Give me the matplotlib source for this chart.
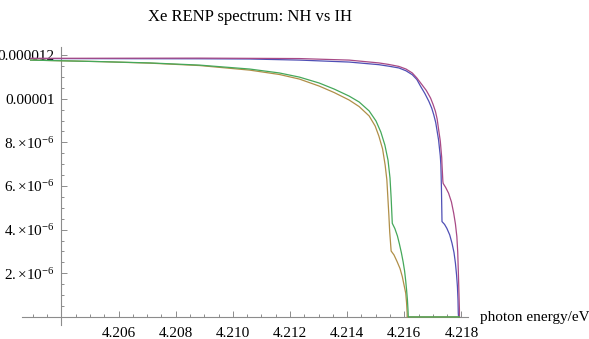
import matplotlib
matplotlib.use('Agg')
import matplotlib.pyplot as plt
from matplotlib.ticker import FixedLocator, MultipleLocator

plt.rcParams['font.family'] = ['Liberation Serif', 'DejaVu Serif']
plt.rcParams['mathtext.fontset'] = 'custom'
plt.rcParams['mathtext.rm'] = 'Liberation Serif'
plt.rcParams['mathtext.it'] = 'Liberation Serif:italic'
plt.rcParams['mathtext.bf'] = 'Liberation Serif:bold'

title = "Xe RENP spectrum: NH vs IH"
xlabel = "photon energy/eV"

# photon energy (eV) and rate (units of 1e-6)
blue_x = [4.20292, 4.20884, 4.21059, 4.21233, 4.21407, 4.21511, 4.21546, 4.21581,
          4.21606, 4.21628, 4.21644, 4.21657, 4.21672, 4.21686, 4.21696, 4.21703,
          4.21710, 4.21715, 4.21720, 4.21723, 4.21726, 4.21728, 4.21729, 4.21730,
          4.21731, 4.21732, 4.21741, 4.21749, 4.21759, 4.21767, 4.21774, 4.21779,
          4.21783, 4.21786, 4.21788, 4.21789, 4.21790, 4.21793]
blue_y = [11.84, 11.83, 11.82, 11.77, 11.68, 11.56, 11.49, 11.41,
          11.28, 11.10, 10.88, 10.57, 10.24, 9.88, 9.57, 9.27,
          8.91, 8.51, 8.11, 7.74, 7.38, 6.98, 6.46, 5.91,
          5.13, 4.37, 4.24, 4.06, 3.76, 3.38, 2.95, 2.46,
          1.92, 1.39, 0.78, 0.17, 0.0, 0.0]

magenta_x = [4.20292, 4.20884, 4.21233, 4.21407, 4.21511, 4.21546, 4.21581, 4.21606,
             4.21628, 4.21644, 4.21662, 4.21677, 4.21692, 4.21701, 4.21709, 4.21715,
             4.21721, 4.21726, 4.21729, 4.21731, 4.21732, 4.21735, 4.21736, 4.21745,
             4.21755, 4.21765, 4.21773, 4.21779, 4.21784, 4.21787, 4.21789, 4.21791,
             4.21793, 4.21793]
magenta_y = [11.85, 11.86, 11.84, 11.77, 11.64, 11.57, 11.48, 11.36,
             11.18, 10.95, 10.64, 10.38, 10.03, 9.73, 9.42, 9.07,
             8.51, 8.06, 7.60, 7.30, 6.98, 6.22, 6.12, 5.93,
             5.67, 5.27, 4.75, 4.26, 3.68, 2.98, 2.15, 1.24,
             0.32, 0.0]

gold_x = [4.20292, 4.20536, 4.20710, 4.20884, 4.21059, 4.21163, 4.21233, 4.21302,
          4.21355, 4.21407, 4.21442, 4.21477, 4.21498, 4.21511, 4.21524, 4.21533,
          4.21539, 4.21542, 4.21546, 4.21549, 4.21554, 4.21564, 4.21575, 4.21585,
          4.21593, 4.21599, 4.21605, 4.21608, 4.21610, 4.21610, 4.21793]
gold_y = [11.77, 11.70, 11.63, 11.52, 11.31, 11.11, 10.90, 10.58,
          10.28, 9.94, 9.64, 9.21, 8.75, 8.29, 7.70, 6.96,
          6.28, 5.59, 4.67, 3.89, 3.02, 2.84, 2.53, 2.22,
          1.85, 1.47, 1.09, 0.64, 0.18, 0.0, 0.0]

green_x = [4.20292, 4.20536, 4.20710, 4.20884, 4.21059, 4.21163, 4.21233, 4.21302,
           4.21355, 4.21407, 4.21442, 4.21477, 4.21501, 4.21518, 4.21532, 4.21543,
           4.21550, 4.21554, 4.21558, 4.21567, 4.21576, 4.21583, 4.21590, 4.21596,
           4.21601, 4.21605, 4.21608, 4.21611, 4.21613, 4.21614, 4.21793]
green_y = [11.77, 11.70, 11.64, 11.54, 11.36, 11.18, 10.99, 10.72,
           10.44, 10.12, 9.85, 9.44, 8.98, 8.47, 7.88, 7.19,
           6.37, 5.45, 4.29, 4.05, 3.71, 3.34, 2.93, 2.52,
           2.11, 1.65, 1.24, 0.78, 0.32, 0.0, 0.0]

x_major = [4.206, 4.208, 4.210, 4.212, 4.214, 4.216, 4.218]
x_labels = ["4.206", "4.208", "4.210", "4.212", "4.214", "4.216", "4.218"]
y_major = [2, 4, 6, 8, 10, 12]
y_labels = [r"$2.{\times}10^{-6}$", r"$4.{\times}10^{-6}$", r"$6.{\times}10^{-6}$",
            r"$8.{\times}10^{-6}$", "0.00001", "0.000012"]

fig = plt.figure(figsize=(5.89, 3.39), dpi=100)
ax = fig.add_axes([22 / 589, 14 / 339, 446 / 589, 278 / 339])
ax.set_xlim(4.20262, 4.21823)
ax.set_ylim(-0.37, 12.37)

axis_gray = '#8c8c8c'
for s in ['top', 'right']:
    ax.spines[s].set_visible(False)
ax.spines['left'].set_position(('data', 4.204))
ax.spines['bottom'].set_position(('data', 0))
for s in ['left', 'bottom']:
    ax.spines[s].set_color(axis_gray)
    ax.spines[s].set_linewidth(0.8)

ax.xaxis.set_major_locator(FixedLocator(x_major))
ax.set_xticklabels(x_labels)
ax.xaxis.set_minor_locator(MultipleLocator(0.0005))
ax.yaxis.set_major_locator(FixedLocator(y_major))
ax.set_yticklabels(y_labels)
ax.yaxis.set_minor_locator(MultipleLocator(0.5))

ax.tick_params(which='both', direction='in', color=axis_gray, width=0.7, labelsize=11)
ax.tick_params(which='major', length=4.0)
ax.tick_params(which='minor', length=2.3)
ax.tick_params(axis='x', which='major', pad=7)
ax.tick_params(axis='y', which='major', pad=5)

lw = 0.9
ax.plot(blue_x, blue_y, color='#4f4fb5', lw=lw, zorder=3)
ax.plot(magenta_x, magenta_y, color='#a84a86', lw=lw, zorder=3)
ax.plot(gold_x, gold_y, color='#b08f48', lw=lw, zorder=3)
ax.plot(green_x, green_y, color='#45a85a', lw=lw, zorder=3)

fig.text(250 / 589, 1 - 17 / 339, title, ha='center', va='center', fontsize=12)
fig.text(480 / 589, 1 - 318 / 339, xlabel, ha='left', va='center', fontsize=11)

fig.savefig('out.png', dpi=100)
